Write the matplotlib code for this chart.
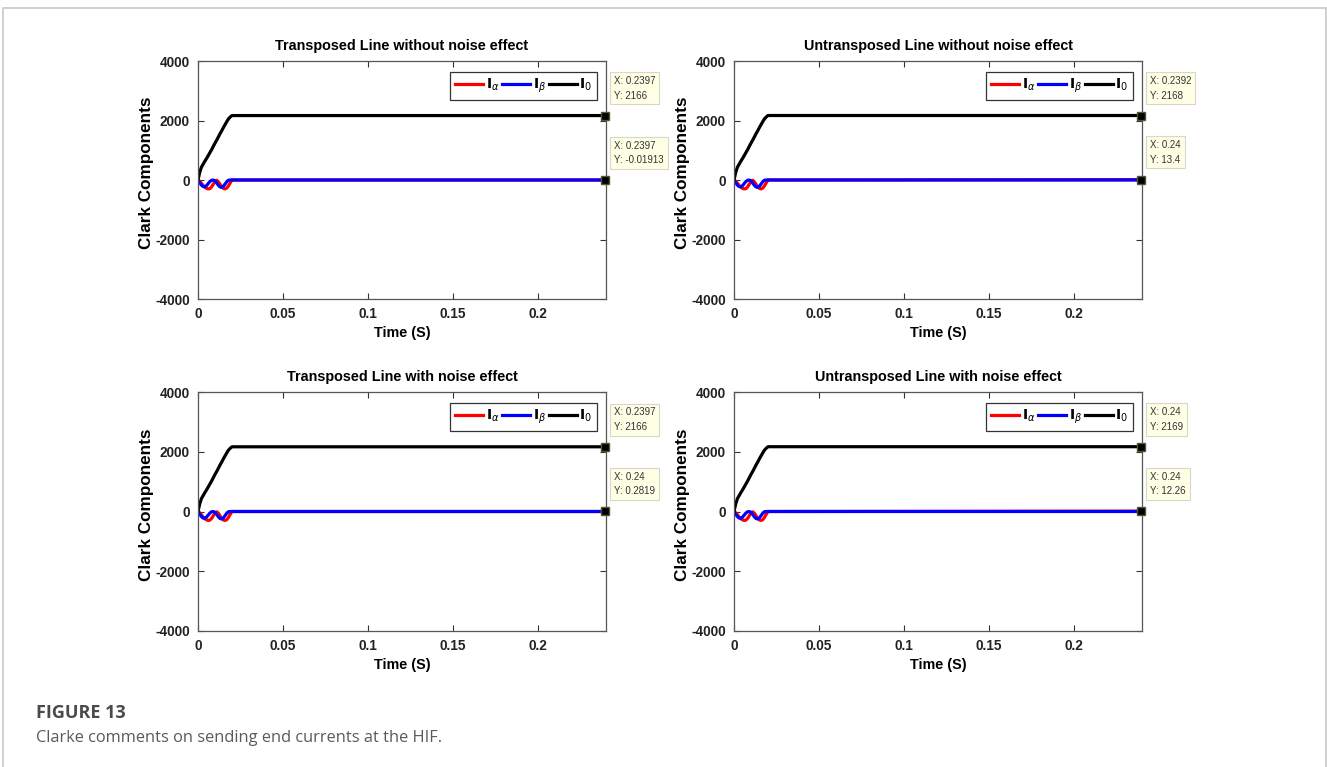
import numpy as np
import matplotlib
matplotlib.use('Agg')
import matplotlib.pyplot as plt
from matplotlib.patches import Rectangle

plt.rcParams['font.family'] = ['Liberation Sans', 'DejaVu Sans']
plt.rcParams['axes.unicode_minus'] = False

# transient part (0 .. 0.02 s)
t_tr = [0, 0.001, 0.002, 0.003, 0.004, 0.005, 0.006, 0.007, 0.008, 0.009, 0.010,
        0.011, 0.012, 0.013, 0.014, 0.015, 0.016, 0.017, 0.018, 0.019, 0.020]
ia_tr = [0, -40, -110, -180, -240, -280, -300, -290, -230, -140, -50,
         -10, -60, -150, -230, -285, -300, -270, -190, -90, 0]
ib_tr = [0, -90, -170, -220, -230, -190, -120, -50, -10, 0, -30,
         -100, -180, -235, -250, -210, -130, -50, -5, 0, 0]
i0_tr = [0, 250, 430, 530, 630, 720, 820, 920, 1020, 1130, 1240,
         1340, 1450, 1560, 1660, 1770, 1870, 1970, 2060, 2120, 2166]
t_end = 0.24

titles = ['Transposed Line without noise effect', 'Untransposed Line without noise effect',
          'Transposed Line with noise effect', 'Untransposed Line with noise effect']
i0_final = [2166, 2168, 2166, 2169]
ia_final = [-0.01913, 13.4, 0.2819, 12.26]
tip_x0 = ['0.2397', '0.2392', '0.2397', '0.24']
tip_y0 = ['2166', '2168', '2166', '2169']
tip_xa = ['0.2397', '0.24', '0.24', '0.24']
tip_ya = ['-0.01913', '13.4', '0.2819', '12.26']

W, H = 1327, 767
fig = plt.figure(figsize=(W / 100, H / 100), dpi=100)
fig.patches.append(Rectangle((3 / W, -0.01), 1323 / W, 1 - 8 / H + 0.01, transform=fig.transFigure,
                             fill=False, edgecolor='#c8c8c8', lw=1.2))

# axes boxes in pixels: left, top, right, bottom
boxes = [(198, 61, 606, 299), (734, 61, 1142, 299),
         (198, 392, 606, 631), (734, 392, 1142, 631)]

for k, (l, t, r, b) in enumerate(boxes):
    ax = fig.add_axes([l / W, 1 - b / H, (r - l) / W, (b - t) / H])
    tt = t_tr + [t_end]
    ax.plot(tt, ia_tr + [ia_final[k]], color='red', lw=2.3, label=r'$\mathbf{I}_{\alpha}$')
    ax.plot(tt, ib_tr + [0], color='blue', lw=2.3, label=r'$\mathbf{I}_{\beta}$')
    ax.plot(tt, i0_tr[:-1] + [i0_final[k], i0_final[k]], color='black', lw=2.3,
            label=r'$\mathbf{I}_{0}$')
    for yv, tx, ty in [(i0_final[k], tip_x0[k], tip_y0[k]), (ia_final[k], tip_xa[k], tip_ya[k])]:
        ax.plot([t_end - 0.0003], [yv], marker='s', color='black', ms=6, mec='#555533',
                clip_on=False, zorder=5)
        ax.annotate('X: %s\nY: %s' % (tx, ty), xy=(t_end, yv), xytext=(8, 15),
                    textcoords='offset pixels', fontsize=7.0, va='bottom', ha='left',
                    linespacing=1.55, annotation_clip=False, color='#333333',
                    bbox=dict(boxstyle='square,pad=0.4', fc='#ffffe6', ec='#d8d8c8', lw=0.8))
    ax.set_xlim(0, t_end)
    ax.set_ylim(-4000, 4000)
    ax.set_xticks([0, 0.05, 0.1, 0.15, 0.2])
    ax.set_xticklabels(['0', '0.05', '0.1', '0.15', '0.2'])
    ax.set_yticks([-4000, -2000, 0, 2000, 4000])
    ax.tick_params(direction='in', top=True, right=True, length=4, width=0.8,
                   labelsize=9.8, color='#333333')
    ax.tick_params(axis='x', pad=5.5)
    ax.tick_params(axis='y', pad=6)
    for lab in ax.get_xticklabels() + ax.get_yticklabels():
        lab.set_fontweight('bold')
        lab.set_color('#222222')
    for s in ax.spines.values():
        s.set_color('#555555')
        s.set_linewidth(0.9)
    ax.set_title(titles[k], fontsize=10.4, fontweight='bold', pad=8)
    ax.set_xlabel('Time (S)', fontsize=10.4, fontweight='bold', labelpad=4)
    ax.set_ylabel('Clark Components', fontsize=12.3, fontweight='bold', labelpad=0)
    ax.yaxis.set_label_coords(-0.108, 0.53)
    leg = ax.legend(loc='upper right', ncol=3, fontsize=10, handlelength=2.0,
                    handletextpad=0.2, columnspacing=0.2, borderpad=0.35, borderaxespad=0,
                    fancybox=False, framealpha=1, edgecolor='#333333',
                    bbox_to_anchor=(1 - 9 / 408, 1 - 11 / 238))
    leg.get_frame().set_linewidth(0.9)

fig.text(36 / W, 1 - 718 / H, 'FIGURE 13', fontsize=13, fontweight='bold', color='#4a4a4a',
         family=['Open Sans', 'DejaVu Sans'], va='baseline')
fig.text(36 / W, 1 - 742 / H, 'Clarke comments on sending end currents at the HIF.', fontsize=11.8,
         color='#5a5a5a', family=['Open Sans', 'DejaVu Sans'], va='baseline')

fig.savefig('out.png', dpi=100)
